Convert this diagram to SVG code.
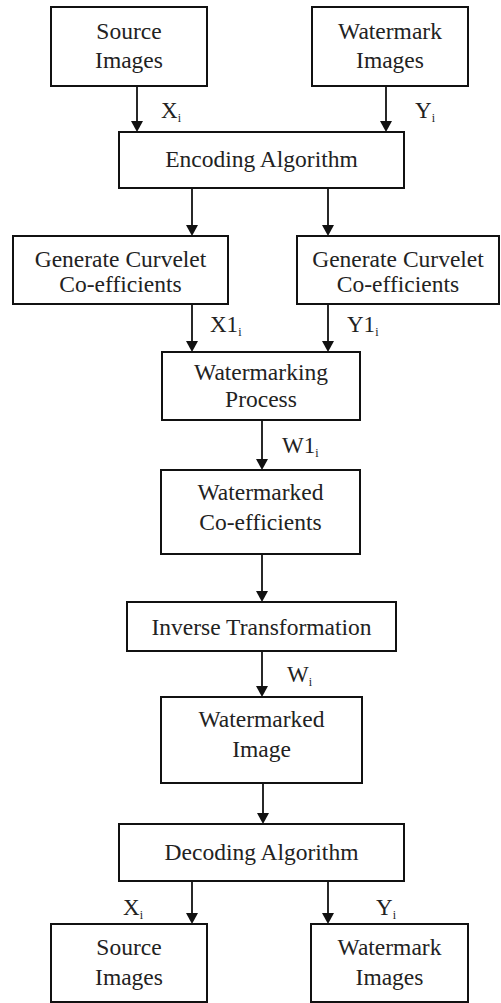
<svg xmlns="http://www.w3.org/2000/svg" width="501" height="1003" viewBox="0 0 501 1003">
<style>
.box{fill:#fff;stroke:#111;stroke-width:2}
.t{font-family:'Liberation Serif','DejaVu Serif',serif;font-size:23.5px;fill:#222;text-anchor:middle}
.l{font-family:'Liberation Serif','DejaVu Serif',serif;font-size:23px;fill:#222}
.s{font-size:12px}
.c{stroke:#111;stroke-width:1.8;fill:none}
.h{fill:#111}
</style>
<rect width="501" height="1003" fill="#fff"/>
<g id="connectors">
<path class="c" d="M137,86 V121"/><path class="h" d="M131,121 L143,121 L137,132 Z"/>
<path class="c" d="M386,86 V121"/><path class="h" d="M380,121 L392,121 L386,132 Z"/>
<path class="c" d="M192,188 V225"/><path class="h" d="M186,225 L198,225 L192,236 Z"/>
<path class="c" d="M328,188 V225"/><path class="h" d="M322,225 L334,225 L328,236 Z"/>
<path class="c" d="M192,304 V341"/><path class="h" d="M186,341 L198,341 L192,352 Z"/>
<path class="c" d="M328,304 V341"/><path class="h" d="M322,341 L334,341 L328,352 Z"/>
<path class="c" d="M262,420 V459"/><path class="h" d="M256,459 L268,459 L262,470 Z"/>
<path class="c" d="M262,554 V591"/><path class="h" d="M256,591 L268,591 L262,602 Z"/>
<path class="c" d="M262,651 V686"/><path class="h" d="M256,686 L268,686 L262,697 Z"/>
<path class="c" d="M263,783 V813"/><path class="h" d="M257,813 L269,813 L263,824 Z"/>
<path class="c" d="M192,881 V913"/><path class="h" d="M186,913 L198,913 L192,924 Z"/>
<path class="c" d="M328,881 V913"/><path class="h" d="M322,913 L334,913 L328,924 Z"/>
<text class="l" font-family="Liberation Serif" x="161" y="118">X<tspan class="s" dy="4">i</tspan></text>
<text class="l" font-family="Liberation Serif" x="415" y="118">Y<tspan class="s" dy="4">i</tspan></text>
<text class="l" font-family="Liberation Serif" x="210" y="332">X1<tspan class="s" dy="4">i</tspan></text>
<text class="l" font-family="Liberation Serif" x="347" y="332">Y1<tspan class="s" dy="4">i</tspan></text>
<text class="l" font-family="Liberation Serif" x="282" y="453">W1<tspan class="s" dy="4">i</tspan></text>
<text class="l" font-family="Liberation Serif" x="287" y="682">W<tspan class="s" dy="4">i</tspan></text>
<text class="l" font-family="Liberation Serif" x="123" y="915">X<tspan class="s" dy="4">i</tspan></text>
<text class="l" font-family="Liberation Serif" x="376" y="915">Y<tspan class="s" dy="4">i</tspan></text>
</g>
<g id="src1"><rect class="box" x="51" y="7" width="156" height="79"/><text class="t" x="129" y="39">Source</text><text class="t" x="129" y="68">Images</text></g>
<g id="wm1"><rect class="box" x="312" y="7" width="156" height="79"/><text class="t" x="390" y="39">Watermark</text><text class="t" x="390" y="68">Images</text></g>
<g id="enc"><rect class="box" x="119" y="132" width="285" height="56"/><text class="t" x="261.5" y="167">Encoding Algorithm</text></g>
<g id="gen1"><rect class="box" x="13" y="236" width="215" height="68"/><text class="t" x="120.5" y="267">Generate Curvelet</text><text class="t" x="120.5" y="292">Co-efficients</text></g>
<g id="gen2"><rect class="box" x="297" y="236" width="202" height="68"/><text class="t" x="398" y="267">Generate Curvelet</text><text class="t" x="398" y="292">Co-efficients</text></g>
<g id="wmp"><rect class="box" x="162" y="352" width="198" height="68"/><text class="t" x="261" y="380">Watermarking</text><text class="t" x="261" y="407">Process</text></g>
<g id="wmc"><rect class="box" x="161" y="470" width="199" height="84"/><text class="t" x="260.5" y="500">Watermarked</text><text class="t" x="260.5" y="530">Co-efficients</text></g>
<g id="inv"><rect class="box" x="127" y="602" width="269" height="49"/><text class="t" x="261.5" y="635">Inverse Transformation</text></g>
<g id="wmi"><rect class="box" x="161" y="697" width="201" height="86"/><text class="t" x="261.5" y="727">Watermarked</text><text class="t" x="261.5" y="757">Image</text></g>
<g id="dec"><rect class="box" x="119" y="824" width="285" height="57"/><text class="t" x="261.5" y="860">Decoding Algorithm</text></g>
<g id="src2"><rect class="box" x="51" y="924" width="156" height="78"/><text class="t" x="129" y="955">Source</text><text class="t" x="129" y="985">Images</text></g>
<g id="wm2"><rect class="box" x="311" y="924" width="157" height="78"/><text class="t" x="389.5" y="955">Watermark</text><text class="t" x="389.5" y="985">Images</text></g>
</svg>
